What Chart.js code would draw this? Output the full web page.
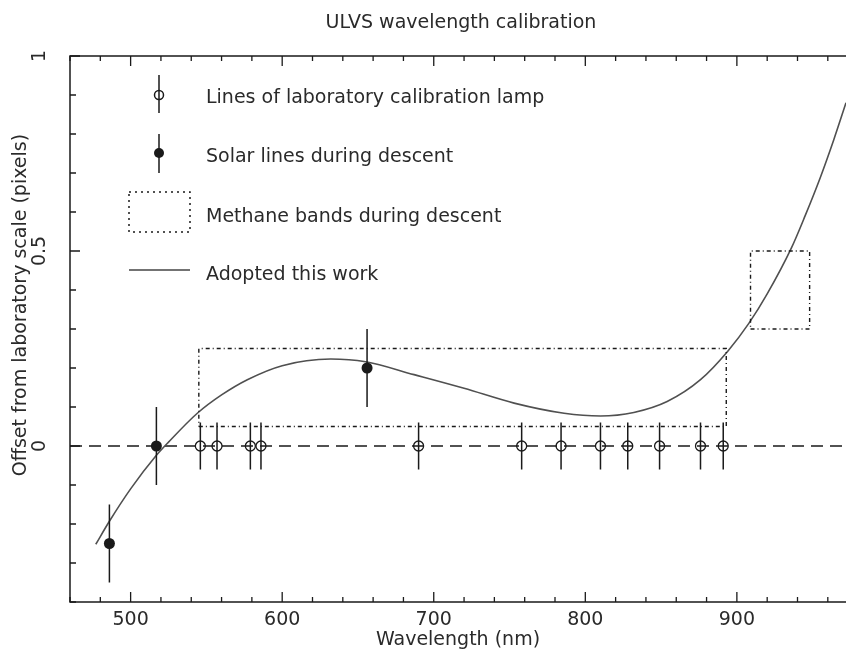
<!DOCTYPE html>
<html>
<head>
<meta charset="utf-8">
<script src="https://cdn.jsdelivr.net/npm/chart.js@4.4.1/dist/chart.umd.min.js"></script>
<style>
  html, body { margin: 0; padding: 0; background: #fff; }
  canvas { display: block; }
</style>
</head>
<body>
<canvas id="calib" width="846" height="657"></canvas>
<script>
// axis ranges
const X_MIN = 460, X_MAX = 972;
const Y_MIN = -0.4, Y_MAX = 1;
const xTickValues = [500, 600, 700, 800, 900];
const yTickValues = [0, 0.5, 1];
const yTickLabels = ['0', '0.5', '1'];

// lab calibration lamp lines (open circles)
const lampWl = [546, 557, 579, 586, 690, 758, 784, 810, 828, 849, 876, 891];
const lampOffset = [0, 0, 0, 0, 0, 0, 0, 0, 0, 0, 0, 0];
const lampErr = [0.06, 0.06, 0.06, 0.06, 0.06, 0.06, 0.06, 0.06, 0.06, 0.06, 0.06, 0.06];

// solar lines during descent (filled circles)
const solarWl = [486, 517, 656];
const solarOffset = [-0.25, 0, 0.2];
const solarErr = [0.1, 0.1, 0.1];

// methane bands (dotted boxes)
const methaneWlLo = [545, 909];
const methaneWlHi = [893, 948];
const methaneLo = [0.05, 0.3];
const methaneHi = [0.25, 0.5];

// adopted calibration curve
const fitWl = [477, 486, 500, 517, 525, 544, 560, 577, 600, 632, 655, 687, 720, 753, 786, 810, 832, 854, 876, 894, 908, 920, 936, 945, 955, 964, 972];
const fitOffset = [-0.252, -0.193, -0.110, -0.024, 0.010, 0.084, 0.131, 0.170, 0.206, 0.223, 0.216, 0.183, 0.148, 0.110, 0.084, 0.077, 0.086, 0.114, 0.170, 0.243, 0.315, 0.390, 0.508, 0.590, 0.688, 0.786, 0.880];

const INK = '#1a1a1a';
const TEXT = '#2a2a2a';
const FONT = '"DejaVu Sans", sans-serif';

function points(xs, ys) {
  return xs.map((x, i) => ({ x: x, y: ys[i] }));
}

// vertical error bars, split with null points
function errorBars(xs, ys, errs) {
  const out = [];
  xs.forEach((x, i) => {
    out.push({ x: x, y: ys[i] - errs[i] }, { x: x, y: ys[i] + errs[i] }, { x: x, y: null });
  });
  return out;
}

function boxes(x0, x1, y0, y1) {
  const out = [];
  x0.forEach((x, i) => {
    out.push({ x: x0[i], y: y0[i] }, { x: x1[i], y: y0[i] }, { x: x1[i], y: y1[i] },
             { x: x0[i], y: y1[i] }, { x: x0[i], y: y0[i] }, { x: x0[i], y: null });
  });
  return out;
}

// frame, inward ticks, rotated y labels, titles and legend
const decorations = {
  id: 'decorations',
  afterDraw(chart) {
    const ctx = chart.ctx;
    const a = chart.chartArea;
    const xs = chart.scales.x, ys = chart.scales.y;
    ctx.save();
    ctx.strokeStyle = INK;
    ctx.lineWidth = 1.5;
    ctx.setLineDash([]);
    ctx.beginPath();
    ctx.moveTo(a.right + 2, a.top); ctx.lineTo(a.left, a.top);
    ctx.lineTo(a.left, a.bottom); ctx.lineTo(a.right + 2, a.bottom);
    ctx.stroke();

    // x ticks, bottom and top
    ctx.lineWidth = 1.3;
    ctx.beginPath();
    for (let v = X_MIN; v <= X_MAX; v += 20) {
      const px = xs.getPixelForValue(v);
      const len = v % 100 === 0 ? 10 : 5;
      ctx.moveTo(px, a.bottom); ctx.lineTo(px, a.bottom - len);
      ctx.moveTo(px, a.top); ctx.lineTo(px, a.top + len);
    }
    // y ticks, left
    for (let k = -4; k <= 10; k++) {
      const v = k / 10;
      const py = ys.getPixelForValue(v);
      const len = k % 5 === 0 ? 10 : 6;
      ctx.moveTo(a.left, py); ctx.lineTo(a.left + len, py);
    }
    ctx.stroke();

    // y tick labels, rotated
    ctx.fillStyle = TEXT;
    ctx.font = '19px ' + FONT;
    ctx.textAlign = 'center';
    ctx.textBaseline = 'middle';
    yTickValues.forEach((v, i) => {
      ctx.save();
      ctx.translate(40, ys.getPixelForValue(v));
      ctx.rotate(-Math.PI / 2);
      ctx.fillText(yTickLabels[i], 0, 0);
      ctx.restore();
    });

    // y axis title
    ctx.save();
    ctx.translate(21, 305);
    ctx.rotate(-Math.PI / 2);
    ctx.fillText('Offset from laboratory scale (pixels)', 0, 0);
    ctx.restore();

    // main title
    ctx.fillText('ULVS wavelength calibration', (a.left + a.right) / 2 + 3, 23);

    // legend
    ctx.textAlign = 'left';
    ctx.textBaseline = 'alphabetic';
    ctx.fillText('Lines of laboratory calibration lamp', 206, 103);
    ctx.fillText('Solar lines during descent', 206, 162);
    ctx.fillText('Methane bands during descent', 206, 222);
    ctx.fillText('Adopted this work', 206, 280);

    ctx.strokeStyle = INK;
    ctx.lineWidth = 1.5;
    ctx.beginPath();
    ctx.moveTo(159, 75); ctx.lineTo(159, 113);
    ctx.moveTo(159, 134); ctx.lineTo(159, 173);
    ctx.stroke();
    ctx.beginPath();
    ctx.arc(159, 95, 4.5, 0, Math.PI * 2);
    ctx.stroke();
    ctx.fillStyle = INK;
    ctx.beginPath();
    ctx.arc(159, 153, 5, 0, Math.PI * 2);
    ctx.fill();

    ctx.setLineDash([2, 4]);
    ctx.lineWidth = 1.5;
    ctx.strokeRect(129, 192, 61, 40);
    ctx.setLineDash([]);
    ctx.strokeStyle = '#444';
    ctx.beginPath();
    ctx.moveTo(129, 270); ctx.lineTo(190, 270);
    ctx.stroke();
    ctx.restore();
  }
};

new Chart(document.getElementById('calib'), {
  type: 'scatter',
  data: {
    datasets: [
      {
        label: 'Lines of laboratory calibration lamp',
        data: points(lampWl, lampOffset),
        pointStyle: 'circle',
        pointRadius: 5,
        pointBorderWidth: 1.3,
        pointBorderColor: INK,
        pointBackgroundColor: 'rgba(0,0,0,0)'
      },
      {
        label: 'Solar lines during descent',
        data: points(solarWl, solarOffset),
        pointStyle: 'circle',
        pointRadius: 5.5,
        pointBorderWidth: 0,
        pointBackgroundColor: INK
      },
      {
        label: 'lamp error',
        data: errorBars(lampWl, lampOffset, lampErr),
        showLine: true,
        spanGaps: false,
        pointRadius: 0,
        borderColor: INK,
        borderWidth: 1.5
      },
      {
        label: 'solar error',
        data: errorBars(solarWl, solarOffset, solarErr),
        showLine: true,
        spanGaps: false,
        pointRadius: 0,
        borderColor: INK,
        borderWidth: 1.5
      },
      {
        label: 'Methane bands during descent',
        data: boxes(methaneWlLo, methaneWlHi, methaneLo, methaneHi),
        showLine: true,
        spanGaps: false,
        pointRadius: 0,
        borderColor: INK,
        borderWidth: 1.4,
        borderDash: [4, 3, 1, 3]
      },
      {
        label: 'Adopted this work',
        data: points(fitWl, fitOffset),
        showLine: true,
        cubicInterpolationMode: 'monotone',
        pointRadius: 0,
        borderColor: '#505050',
        borderWidth: 1.6
      },
      {
        label: 'zero',
        data: points([X_MIN, X_MAX], [0, 0]),
        showLine: true,
        pointRadius: 0,
        borderColor: INK,
        borderWidth: 1.5,
        borderDash: [12, 7]
      }
    ]
  },
  options: {
    responsive: false,
    animation: false,
    devicePixelRatio: 1,
    layout: { autoPadding: false, padding: { top: 56, left: 0, right: 0, bottom: 0 } },
    plugins: {
      legend: { display: false },
      title: { display: false },
      tooltip: { enabled: false }
    },
    scales: {
      x: {
        type: 'linear',
        min: X_MIN,
        max: X_MAX,
        grid: { display: false, drawTicks: false },
        border: { display: false },
        afterFit: (s) => { s.height = 55; },
        afterBuildTicks: (s) => { s.ticks = xTickValues.map(v => ({ value: v })); },
        ticks: {
          padding: 7,
          color: TEXT,
          font: { family: FONT, size: 19 },
          maxRotation: 0
        },
        title: {
          display: true,
          text: 'Wavelength (nm)',
          color: TEXT,
          font: { family: FONT, size: 19 },
          padding: { top: 0, bottom: 6 }
        }
      },
      y: {
        type: 'linear',
        min: Y_MIN,
        max: Y_MAX,
        grid: { display: false, drawTicks: false },
        border: { display: false },
        ticks: { display: false },
        afterFit: (s) => { s.width = 70; }
      }
    }
  },
  plugins: [decorations]
});
</script>
</body>
</html>
